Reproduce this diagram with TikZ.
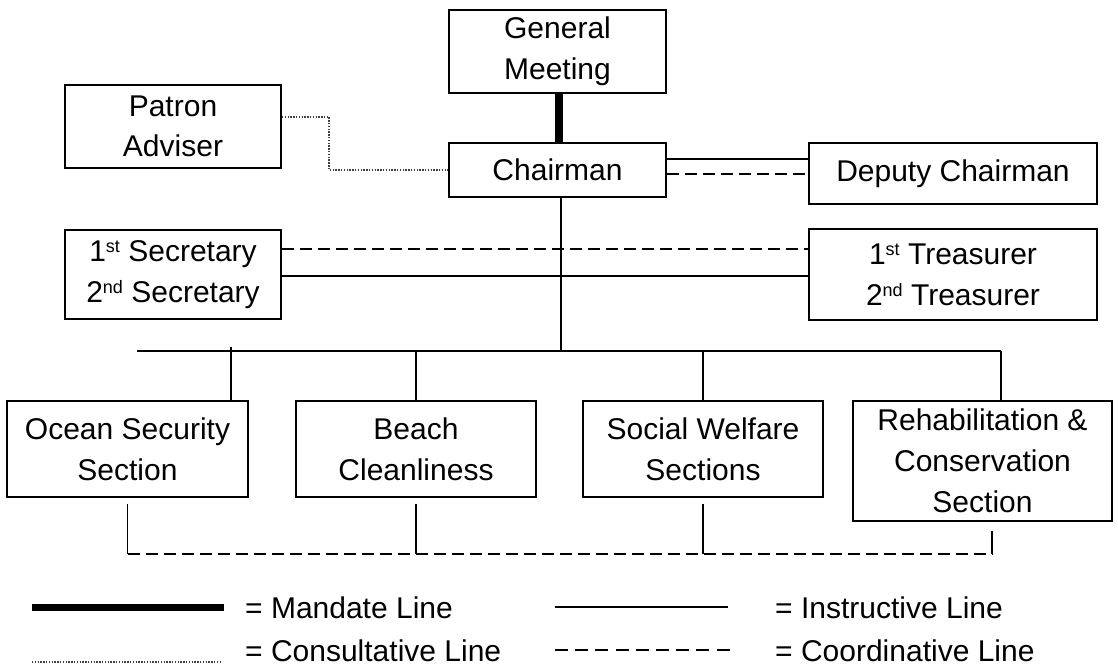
\documentclass[tikz,border=0pt]{standalone}
\usepackage{fontspec}
\setmainfont{Liberation Sans}
% small raised ordinal suffix (1st, 2nd)
\newcommand\ordsup[1]{\raisebox{9pt}{\fontsize{18}{18}\selectfont #1}}
\begin{document}
\begin{tikzpicture}[x=1pt,y=-1pt,
  box/.style={draw, line width=1.8pt, rectangle, inner sep=0pt, align=center,
              font=\fontsize{30}{41}\selectfont},
  mandate/.style={line width=8pt},
  instr/.style={line width=1.6pt},
  coordline/.style={line width=1.6pt, dash pattern=on 12pt off 6pt},
  consult/.style={line width=1.3pt, black!75, dash pattern=on 1.4pt off 1.4pt},
  legtext/.style={anchor=base west, inner sep=0pt, font=\fontsize{30}{36}\selectfont}]
\useasboundingbox (0,0) rectangle (1118,666);

% boxes
\node[box, minimum width=217pt, minimum height=83pt] (gm) at (557.5,51.5) {General\\Meeting};
\node[box, minimum width=216pt, minimum height=83pt, font=\fontsize{30}{40}\selectfont] (patron) at (173,126.5) {Patron\\Adviser};
\node[box, minimum width=217pt, minimum height=54pt] (chair) at (557.5,170) {Chairman};
\node[box, minimum width=288pt, minimum height=61pt] (deputy) at (953,173.5) {Deputy Chairman};
\node[box, minimum width=216pt, minimum height=89pt] (sec) at (173,274.5) {1\ordsup{st} Secretary\\2\ordsup{nd} Secretary};
\node[box, minimum width=288pt, minimum height=91pt] (tre) at (953,274.5) {1\ordsup{st} Treasurer\\2\ordsup{nd} Treasurer};
\node[box, minimum width=241pt, minimum height=96pt] (ocean) at (127.5,449) {Ocean Security\\Section};
\node[box, minimum width=240pt, minimum height=96pt] (beach) at (416,449) {Beach\\Cleanliness};
\node[box, minimum width=240pt, minimum height=96pt] (social) at (703,449) {Social Welfare\\Sections};
\node[box, minimum width=259pt, minimum height=120pt] (rehab) at (982.5,461) {Rehabilitation \&\\Conservation\\Section};

% mandate line
\draw[mandate] ([xshift=1.5pt]gm.south) -- ([xshift=1.5pt]gm.south |- chair.north);

% consultative line from the patron
\coordinate (pbend) at (329,170);
\draw[consult] ([yshift=9.5pt]patron.east) -| (pbend) -- (chair.west);

% chairman and deputy
\draw[instr] ([yshift=11pt]chair.east) -- ([yshift=11pt]chair.east -| deputy.west);
\draw[coordline] ([yshift=-4pt]chair.east) -- ([yshift=-4pt]chair.east -| deputy.west);

% secretaries and treasurers
\draw[coordline] ([yshift=25.5pt]sec.east) -- ([yshift=25.5pt]tre.west);
\draw[instr] ([yshift=-1.5pt]sec.east) -- ([yshift=-1.5pt]tre.west);

% trunk and bus to the sections
\coordinate (busL) at (137,351);
\coordinate (busR) at (1001,351);
\coordinate (odrop) at (231,347);
\draw[instr] ([xshift=3.5pt]chair.south) -- ([xshift=3.5pt]chair.south |- busL);
\draw[instr] (busL) -- (busR);
\draw[instr] (busR) -- (busR |- rehab.north);
\draw[instr] (odrop) -- (odrop |- ocean.north);
\draw[instr] (beach.north |- busL) -- (beach.north);
\draw[instr] (social.north |- busL) -- (social.north);

% coordination among the sections
\coordinate (cL) at (128,554);
\draw[instr] ([yshift=-6pt]ocean.south) -- (ocean.south |- cL);
\draw[instr] ([yshift=-6pt]beach.south) -- (beach.south |- cL);
\draw[instr] ([yshift=-6pt]social.south) -- (social.south |- cL);
\draw[instr] ([xshift=9.5pt,yshift=-9pt]rehab.south) -- ([xshift=9.5pt]rehab.south |- cL);
\draw[coordline] (ocean.south |- cL) -- ([xshift=9.5pt]rehab.south |- cL);

% legend
\coordinate (m1) at (32,607);   \coordinate (m2) at (224,607);
\coordinate (c1) at (32,662);   \coordinate (c2) at (222,662);
\coordinate (i1) at (555,607);  \coordinate (i2) at (728,607);
\coordinate (d1) at (555,650);  \coordinate (d2) at (736,650);
\draw[line width=7pt] (m1) -- (m2);
\draw[consult] (c1) -- (c2);
\draw[instr] (i1) -- (i2);
\draw[line width=1.6pt, dash pattern=on 13pt off 7.2pt] (d1) -- (d2);
\node[legtext] (lm) at (245,618) {= Mandate Line};
\node[legtext] (lc) at (245,661) {= Consultative Line};
\node[legtext] (li) at (775,618) {= Instructive Line};
\node[legtext] (ld) at (775,661) {= Coordinative Line};
\end{tikzpicture}
\end{document}
